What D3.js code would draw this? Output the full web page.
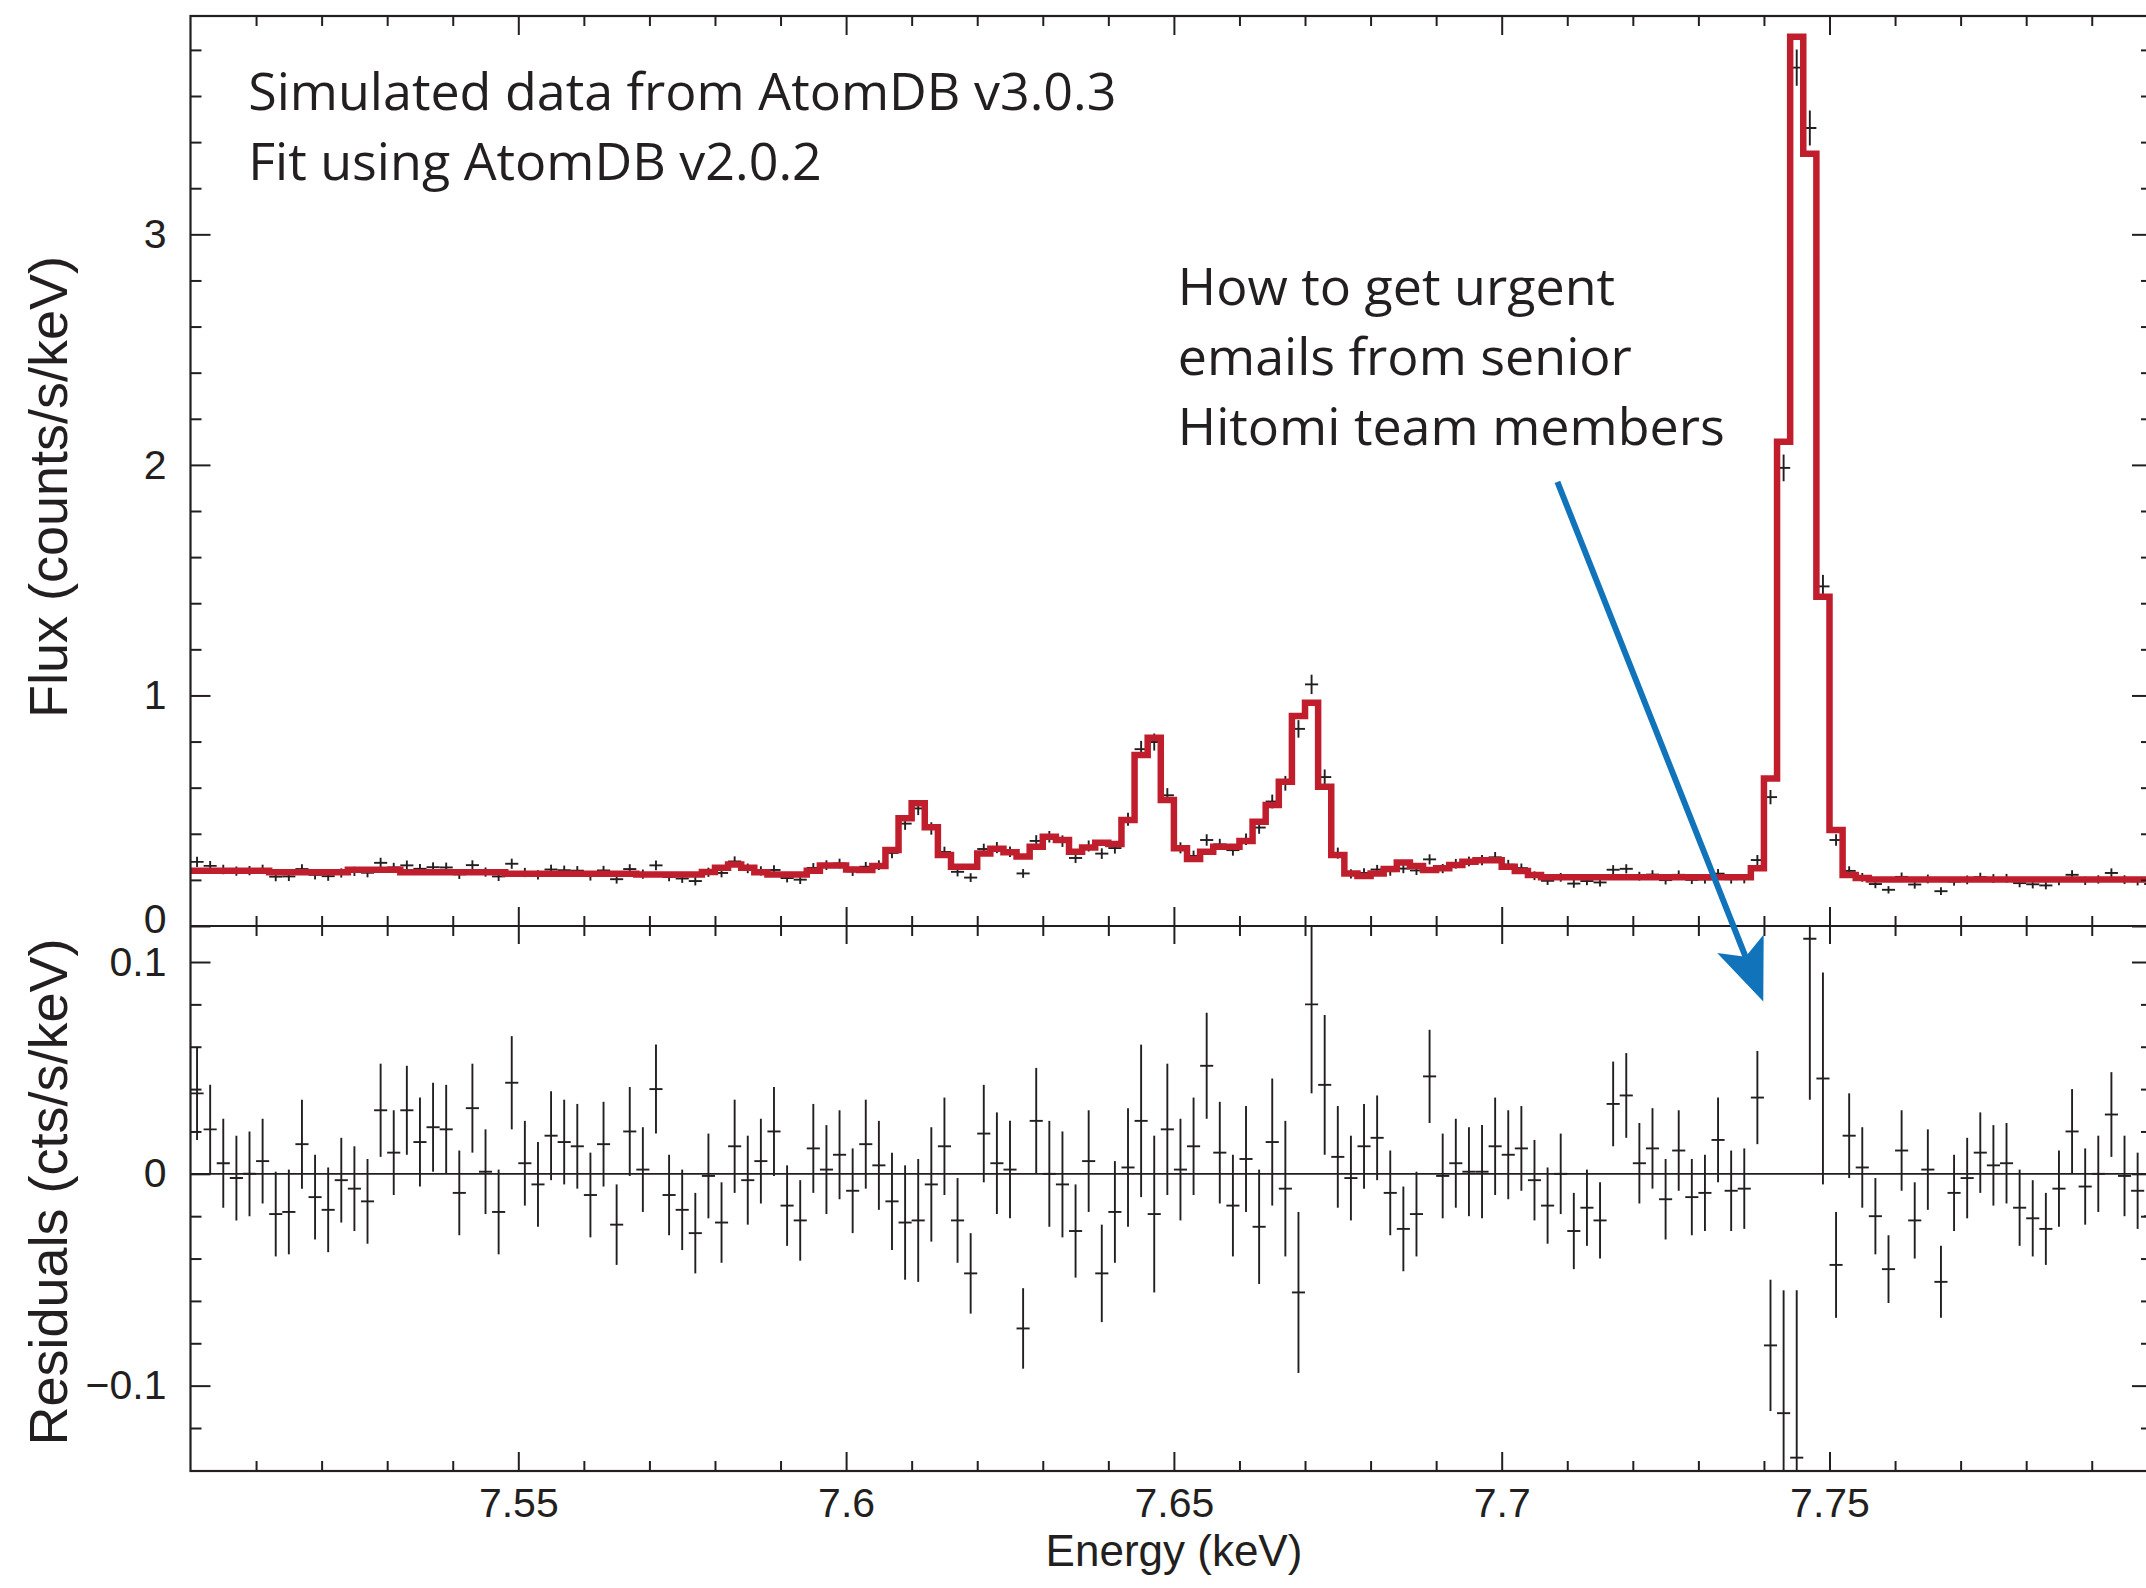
<!DOCTYPE html>
<html>
<head>
<meta charset="utf-8">
<title>Simulated AtomDB spectrum</title>
<script src="https://cdn.jsdelivr.net/npm/d3@7"></script>
<style>
    html, body { margin: 0; padding: 0; background: #fff; overflow: hidden; }
    svg { display: block; }
</style>
</head>
<body>
<svg id="chart" width="2146" height="1588"></svg>
<script>
'use strict';

// Spectrum binning (keV)
const BIN_START = 7.5;
const BIN_WIDTH = 0.002;

// Fitted model, counts/s/keV, one value per 2 eV bin
const model = [
    0.240, 0.240, 0.240, 0.240, 0.240, 0.240, 0.233, 0.233, 0.233, 0.233,
    0.233, 0.233, 0.244, 0.244, 0.244, 0.244, 0.233, 0.233, 0.233, 0.233,
    0.233, 0.233, 0.233, 0.233, 0.227, 0.227, 0.227, 0.227, 0.227, 0.227,
    0.227, 0.227, 0.227, 0.227, 0.223, 0.223, 0.223, 0.223, 0.223, 0.234,
    0.253, 0.267, 0.253, 0.233, 0.223, 0.223, 0.223, 0.240, 0.262, 0.262,
    0.245, 0.243, 0.260, 0.330, 0.467, 0.532, 0.428, 0.308, 0.257, 0.257,
    0.315, 0.335, 0.320, 0.301, 0.344, 0.387, 0.373, 0.322, 0.341, 0.361,
    0.356, 0.460, 0.742, 0.817, 0.546, 0.337, 0.291, 0.322, 0.344, 0.344,
    0.369, 0.452, 0.525, 0.626, 0.911, 0.968, 0.604, 0.308, 0.228, 0.217,
    0.228, 0.247, 0.275, 0.260, 0.243, 0.250, 0.265, 0.279, 0.285, 0.285,
    0.257, 0.239, 0.221, 0.211, 0.211, 0.211, 0.211, 0.211, 0.211, 0.211,
    0.211, 0.211, 0.211, 0.211, 0.211, 0.211, 0.211, 0.211, 0.211, 0.250,
    0.640, 2.100, 3.857, 3.350, 1.428, 0.416, 0.221, 0.208, 0.202, 0.202,
    0.202, 0.202, 0.202, 0.202, 0.202, 0.202, 0.202, 0.202, 0.202, 0.202,
    0.202, 0.202, 0.202, 0.202, 0.202, 0.202, 0.202, 0.202, 0.202, 0.202
];

// Data minus model, cts/s/keV
const residuals = [
    0.038, 0.021, 0.005, -0.002, 0.000, 0.006, -0.019, -0.018, 0.014, -0.011,
    -0.017, -0.003, -0.007, -0.013, 0.030, 0.010, 0.030, 0.015, 0.022, 0.021,
    -0.009, 0.031, 0.001, -0.018, 0.043, 0.005, -0.005, 0.018, 0.015, 0.013,
    -0.010, 0.014, -0.024, 0.020, 0.002, 0.040, -0.010, -0.017, -0.028, -0.001,
    -0.023, 0.013, -0.003, 0.006, 0.020, -0.015, -0.022, 0.012, 0.002, 0.009,
    -0.008, 0.014, 0.004, -0.013, -0.023, -0.022, -0.005, 0.013, -0.022, -0.047,
    0.019, 0.005, 0.002, -0.073, 0.025, 0.000, -0.005, -0.027, 0.006, -0.047,
    -0.018, 0.003, 0.025, -0.019, 0.021, 0.002, 0.013, 0.051, 0.010, -0.015,
    0.007, -0.025, 0.015, -0.007, -0.056, 0.080, 0.042, 0.008, -0.002, 0.013,
    0.017, -0.009, -0.026, -0.019, 0.046, -0.001, 0.005, 0.001, 0.001, 0.013,
    0.009, 0.012, -0.003, -0.015, 0.000, -0.027, -0.016, -0.022, 0.033, 0.037,
    0.005, 0.012, -0.012, 0.011, -0.011, -0.009, 0.016, -0.008, -0.007, 0.036,
    -0.081, -0.113, -0.134, 0.111, 0.045, -0.043, 0.018, 0.003, -0.020, -0.045,
    0.011, -0.022, 0.002, -0.051, -0.009, -0.002, 0.010, 0.004, 0.005, -0.016,
    -0.021, -0.026, -0.007, 0.020, -0.006, 0.000, 0.028, -0.001, -0.008, -0.020
];

// 1-sigma errors, cts/s/keV
const errors = [
    0.022, 0.021, 0.021, 0.020, 0.020, 0.020, 0.020, 0.020, 0.021, 0.020,
    0.020, 0.020, 0.020, 0.020, 0.022, 0.020, 0.021, 0.021, 0.021, 0.021,
    0.020, 0.021, 0.020, 0.020, 0.022, 0.020, 0.020, 0.021, 0.020, 0.020,
    0.020, 0.020, 0.019, 0.021, 0.020, 0.021, 0.019, 0.019, 0.019, 0.020,
    0.019, 0.022, 0.021, 0.020, 0.021, 0.019, 0.019, 0.021, 0.021, 0.021,
    0.020, 0.021, 0.021, 0.023, 0.027, 0.029, 0.027, 0.023, 0.020, 0.019,
    0.023, 0.024, 0.023, 0.019, 0.025, 0.025, 0.025, 0.022, 0.024, 0.023,
    0.024, 0.028, 0.036, 0.037, 0.031, 0.024, 0.023, 0.025, 0.024, 0.024,
    0.025, 0.027, 0.030, 0.032, 0.038, 0.042, 0.033, 0.024, 0.020, 0.020,
    0.020, 0.020, 0.020, 0.020, 0.022, 0.020, 0.021, 0.021, 0.022, 0.023,
    0.021, 0.020, 0.019, 0.018, 0.019, 0.018, 0.018, 0.018, 0.020, 0.020,
    0.019, 0.019, 0.019, 0.019, 0.018, 0.018, 0.020, 0.019, 0.019, 0.022,
    0.031, 0.058, 0.079, 0.076, 0.050, 0.025, 0.020, 0.019, 0.018, 0.016,
    0.019, 0.018, 0.019, 0.017, 0.018, 0.019, 0.019, 0.019, 0.019, 0.018,
    0.018, 0.017, 0.018, 0.020, 0.018, 0.018, 0.020, 0.019, 0.018, 0.018
];

const xMajor = [7.55, 7.6, 7.65, 7.7, 7.75];
const fluxMajor = [0, 1, 2, 3];
const residMajor = [-0.1, 0, 0.1];

const notesTop = ['Simulated data from AtomDB v3.0.3', 'Fit using AtomDB v2.0.2'];
const notesArrow = ['How to get urgent', 'emails from senior', 'Hitomi team members'];

// annotation anchors in data units: [energy, flux] and arrow from flux panel to residual panel
const notesTopAt = [7.5088, 3.539];
const notesArrowAt = [7.6506, 2.693];
const arrowFrom = [7.7085, 1.926];
const arrowTo = [7.7399, 0.0814];

const INK = '#231f20';
const RED = '#c11e2d';
const BLUE = '#1174bb';
const AXIS_FONT = '"Liberation Sans", Arial, Helvetica, sans-serif';
const NOTE_FONT = '"Open Sans", "Noto Sans", sans-serif';

const LEFT = 190.5, RIGHT = 2152, TOP = 16, MID = 926, BOTTOM = 1471;

const svg = d3.select('#chart');

const x = d3.scaleLinear().domain([7.5, 7.8]).range([LEFT, 2157.3]);
const yFlux = d3.scaleLinear().domain([0, 3.947]).range([MID, TOP]);
const yRes = d3.scaleLinear().domain([-0.1403, 0.117]).range([BOTTOM, MID]);

const bins = model.map(function(m, i) {
    return {
        lo: BIN_START + i * BIN_WIDTH,
        hi: BIN_START + (i + 1) * BIN_WIDTH,
        model: m,
        resid: residuals[i],
        err: errors[i],
        data: m + residuals[i]
    };
});

const xMinor = d3.range(1, 30).map(function(i) { return +(7.5 + i * 0.01).toFixed(2); })
    .filter(function(v) { return xMajor.indexOf(v) < 0; });
const fluxMinor = d3.range(1, 20).map(function(i) { return +(i * 0.2).toFixed(1); })
    .filter(function(v) { return fluxMajor.indexOf(v) < 0; });
const residMinor = d3.range(-6, 6).map(function(i) { return +(i * 0.02).toFixed(2); })
    .filter(function(v) { return residMajor.indexOf(v) < 0; });

const defs = svg.append('defs');
defs.append('clipPath').attr('id', 'clipTop')
    .append('rect')
    .attr('x', LEFT).attr('y', TOP)
    .attr('width', RIGHT - LEFT).attr('height', MID - TOP);
defs.append('clipPath').attr('id', 'clipBottom')
    .append('rect')
    .attr('x', LEFT).attr('y', MID)
    .attr('width', RIGHT - LEFT).attr('height', BOTTOM - MID);

// ---- flux panel: data crosses, then model on top
const topPlot = svg.append('g').attr('clip-path', 'url(#clipTop)');

const topCross = topPlot.append('g').attr('stroke', INK).attr('stroke-width', 1.9)
    .selectAll('g').data(bins).enter().append('g');
topCross.append('line')
    .attr('x1', function(d) { return x(d.lo); })
    .attr('x2', function(d) { return x(d.hi); })
    .attr('y1', function(d) { return yFlux(d.data); })
    .attr('y2', function(d) { return yFlux(d.data); });
topCross.append('line')
    .attr('x1', function(d) { return x((d.lo + d.hi) / 2); })
    .attr('x2', function(d) { return x((d.lo + d.hi) / 2); })
    .attr('y1', function(d) { return yFlux(d.data - d.err); })
    .attr('y2', function(d) { return yFlux(d.data + d.err); });

const stepPts = [];
bins.forEach(function(b) {
    stepPts.push([b.lo, b.model], [b.hi, b.model]);
});
const modelLine = d3.line()
    .x(function(d) { return x(d[0]); })
    .y(function(d) { return yFlux(d[1]); });
topPlot.append('path')
    .attr('d', modelLine(stepPts))
    .attr('fill', 'none')
    .attr('stroke', RED)
    .attr('stroke-width', 6.5)
    .attr('stroke-linejoin', 'miter');

// ---- residual panel
const botPlot = svg.append('g').attr('clip-path', 'url(#clipBottom)');
botPlot.append('line')
    .attr('x1', LEFT).attr('x2', RIGHT)
    .attr('y1', yRes(0)).attr('y2', yRes(0))
    .attr('stroke', INK).attr('stroke-width', 1.8);

const resCross = botPlot.append('g').attr('stroke', INK).attr('stroke-width', 1.9)
    .selectAll('g').data(bins).enter().append('g');
resCross.append('line')
    .attr('x1', function(d) { return x(d.lo); })
    .attr('x2', function(d) { return x(d.hi); })
    .attr('y1', function(d) { return yRes(d.resid); })
    .attr('y2', function(d) { return yRes(d.resid); });
resCross.append('line')
    .attr('x1', function(d) { return x((d.lo + d.hi) / 2); })
    .attr('x2', function(d) { return x((d.lo + d.hi) / 2); })
    .attr('y1', function(d) { return yRes(d.resid - d.err); })
    .attr('y2', function(d) { return yRes(d.resid + d.err); });

// ---- frames and axes
function addAxis(axisFn, scale, values, size, tx, ty, labelPad) {
    const axis = axisFn(scale).tickValues(values).tickSizeInner(size).tickSizeOuter(0);
    if (labelPad === undefined) {
        axis.tickFormat('');
    } else {
        axis.tickPadding(labelPad).tickFormat(d3.format(''));
    }
    const g = svg.append('g')
        .attr('transform', 'translate(' + tx + ',' + ty + ')')
        .call(axis);
    g.select('.domain').remove();
    g.selectAll('line').attr('stroke', INK).attr('stroke-width', 2);
    g.selectAll('text')
        .attr('fill', INK)
        .attr('font-family', AXIS_FONT)
        .attr('font-size', 41);
    return g;
}

// top edge of flux panel
addAxis(d3.axisBottom, x, xMajor, 19, 0, TOP);
addAxis(d3.axisBottom, x, xMinor, 10, 0, TOP);
// shared edge: flux ticks up, residual ticks down
addAxis(d3.axisTop, x, xMajor, 19, 0, MID);
addAxis(d3.axisTop, x, xMinor, 10, 0, MID);
addAxis(d3.axisBottom, x, xMajor, 18, 0, MID);
addAxis(d3.axisBottom, x, xMinor, 10, 0, MID);
// bottom edge with labels
addAxis(d3.axisBottom, x, xMajor, -19, 0, BOTTOM, 17);
addAxis(d3.axisBottom, x, xMinor, -10, 0, BOTTOM);

const fluxLabels = addAxis(d3.axisLeft, yFlux, fluxMajor, -20, LEFT, 0, 24);
addAxis(d3.axisLeft, yFlux, fluxMinor, -11, LEFT, 0);
addAxis(d3.axisRight, yFlux, fluxMajor, -20, RIGHT, 0);
addAxis(d3.axisRight, yFlux, fluxMinor, -11, RIGHT, 0);

addAxis(d3.axisLeft, yRes, residMajor, -20, LEFT, 0, 24);
addAxis(d3.axisLeft, yRes, residMinor, -11, LEFT, 0);
addAxis(d3.axisRight, yRes, residMajor, -20, RIGHT, 0);
addAxis(d3.axisRight, yRes, residMinor, -11, RIGHT, 0);

// flux "0" sits just above the residual "0.1" as in the original
fluxLabels.selectAll('text')
    .filter(function(d) { return d === 0; })
    .attr('dy', '0.16em');

svg.append('rect')
    .attr('x', LEFT).attr('y', TOP)
    .attr('width', RIGHT - LEFT).attr('height', BOTTOM - TOP)
    .attr('fill', 'none').attr('stroke', INK).attr('stroke-width', 2.2);
svg.append('line')
    .attr('x1', LEFT).attr('x2', RIGHT)
    .attr('y1', MID).attr('y2', MID)
    .attr('stroke', INK).attr('stroke-width', 2.2);

// ---- axis titles
svg.append('text')
    .attr('transform', 'translate(67,487) rotate(-90)')
    .attr('text-anchor', 'middle')
    .attr('font-family', AXIS_FONT).attr('font-size', 54).attr('fill', INK)
    .text('Flux (counts/s/keV)');
svg.append('text')
    .attr('transform', 'translate(67,1192) rotate(-90)')
    .attr('text-anchor', 'middle')
    .attr('font-family', AXIS_FONT).attr('font-size', 54).attr('fill', INK)
    .text('Residuals (cts/s/keV)');
svg.append('text')
    .attr('x', 1174).attr('y', 1566)
    .attr('text-anchor', 'middle')
    .attr('font-family', AXIS_FONT).attr('font-size', 44).attr('fill', INK)
    .text('Energy (keV)');

// ---- notes
function addNote(lines, at) {
    svg.append('g').selectAll('text').data(lines).enter().append('text')
        .attr('x', x(at[0]))
        .attr('y', function(d, i) { return yFlux(at[1]) + i * 70; })
        .attr('font-family', NOTE_FONT)
        .attr('font-size', 52)
        .attr('fill', INK)
        .text(function(d) { return d; });
}
addNote(notesTop, notesTopAt);
addNote(notesArrow, notesArrowAt);

// ---- arrow
const p0 = [x(arrowFrom[0]), yFlux(arrowFrom[1])];
const p1 = [x(arrowTo[0]), yRes(arrowTo[1])];
const len = Math.hypot(p1[0] - p0[0], p1[1] - p0[1]);
const u = [(p1[0] - p0[0]) / len, (p1[1] - p0[1]) / len];
const n = [-u[1], u[0]];
const HEAD = 62, NOTCH = 48, HALF = 25;
const notch = [p1[0] - NOTCH * u[0], p1[1] - NOTCH * u[1]];
svg.append('line')
    .attr('x1', p0[0]).attr('y1', p0[1])
    .attr('x2', notch[0]).attr('y2', notch[1])
    .attr('stroke', BLUE).attr('stroke-width', 6);
svg.append('path')
    .attr('d', d3.line()([
        p1,
        [p1[0] - HEAD * u[0] + HALF * n[0], p1[1] - HEAD * u[1] + HALF * n[1]],
        notch,
        [p1[0] - HEAD * u[0] - HALF * n[0], p1[1] - HEAD * u[1] - HALF * n[1]]
    ]) + 'Z')
    .attr('fill', BLUE);
</script>
</body>
</html>
